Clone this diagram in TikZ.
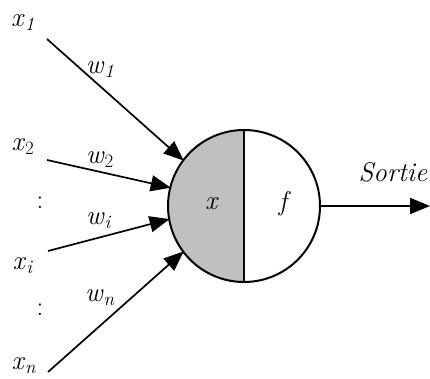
\documentclass[tikz,border=0pt]{standalone}
\usepackage{fontspec}
\usetikzlibrary{arrows.meta}
\definecolor{halfgray}{RGB}{192,192,192}
\newcommand{\lab}[2]{\textit{#1}\textsubscript{#2}}
\begin{document}
\begin{tikzpicture}[x=1pt,y=-1pt,
  lbl/.style={font=\fontsize{27}{29}\selectfont, inner sep=0pt},
  conn/.style={line width=1.7pt, -{Triangle[length=20pt,width=16pt]}, shorten >=-0.5pt}]
\useasboundingbox (0,0) rectangle (430,379);
\node[circle, draw, line width=2pt, minimum size=152pt, inner sep=0pt, outer sep=0pt,
  path picture={\fill[halfgray] (path picture bounding box.south west) rectangle (path picture bounding box.north);}]
  (neuron) at (244,206) {};
\draw[line width=1.5pt] (neuron.north) -- (neuron.south);
\node[lbl] (xin) at (212,204) {\textit{x}};
\node[lbl] (fin) at (285,204) {\textit{f}};
\node[lbl] (x1) at (23,23) {\lab{x}{\textit{1}}};
\node[lbl] (x2) at (23,147) {\lab{x}{2}};
\node[lbl] (xi) at (23,266) {\lab{x}{\textit{i}}};
\node[lbl] (xn) at (24,366) {\lab{x}{\textit{n}}};
\node[lbl] (w1) at (100,70) {\lab{w}{\textit{1}}};
\node[lbl] (w2) at (100,160) {\lab{w}{2}};
\node[lbl] (wi) at (99,221) {\lab{w}{\textit{i}}};
\node[lbl] (wn) at (100,298) {\lab{w}{\textit{n}}};
\node[lbl] (d1) at (40,203) {:};
\node[lbl] (d2) at (40,310) {:};
\node[lbl] (sortie) at (393,172) {\textit{Sortie}};
\coordinate (s1) at (47,39);
\coordinate (s2) at (47,160);
\coordinate (si) at (48,251);
\coordinate (sn) at (48,372);
\coordinate (out) at (430,206);
\draw[conn] (s1) -- (neuron.143);
\draw[conn] (s2) -- (neuron.166);
\draw[conn] (si) -- (neuron.190);
\draw[conn] (sn) -- (neuron.217);
\draw[conn, shorten >=0pt] (neuron.east) -- (out);
\end{tikzpicture}
\end{document}
